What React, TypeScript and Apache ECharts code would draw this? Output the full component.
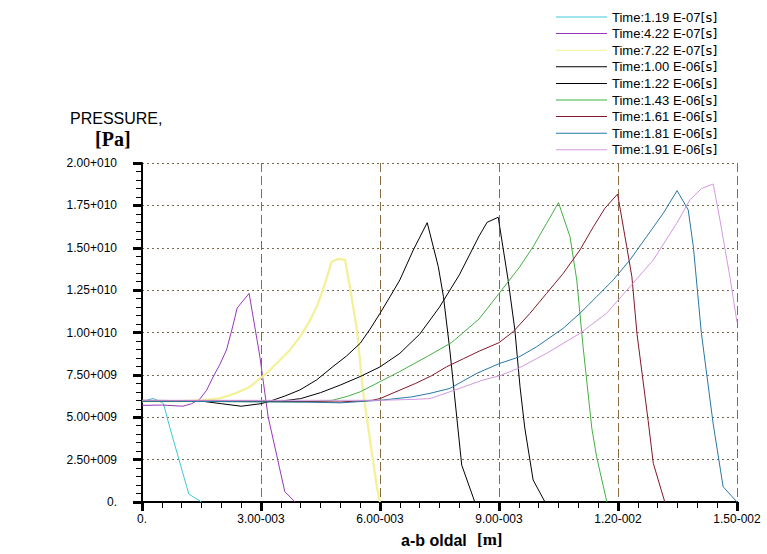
import React, { useEffect, useRef } from "react";
import * as echarts from "echarts";

// x in mm (axis shows metres), y in 1e9 Pa (axis shows Pa)
const seriesNames = [
  "Time:1.19 E-07",
  "Time:4.22 E-07",
  "Time:7.22 E-07",
  "Time:1.00 E-06",
  "Time:1.22 E-06",
  "Time:1.43 E-06",
  "Time:1.61 E-06",
  "Time:1.81 E-06",
  "Time:1.91 E-06",
];
const seriesColors = ["#40c8d8", "#9838b8", "#f3f096", "#000000", "#00000c", "#44b044", "#801828", "#2878a4", "#d498e0"];

const t119 = [[0, 5.9], [0.28, 6.12], [0.54, 5.82], [0.7, 4.4], [1.18, 0.47], [1.5, 0]];
const t422 = [[0, 5.7], [0.5, 5.72], [1.03, 5.65], [1.25, 5.8], [1.46, 6.08], [1.63, 6.6], [1.79, 7.37], [1.96, 8.1], [2.13, 8.97], [2.27, 10.2], [2.4, 11.45], [2.7, 12.31], [2.97, 8.6], [3.18, 5.03], [3.6, 0.61], [3.86, 0]];
const t722 = [[0, 5.95], [1.0, 5.95], [1.5, 6.0], [1.97, 6.12], [2.35, 6.4], [2.72, 6.8], [3.14, 7.6], [3.45, 8.3], [3.73, 8.97], [4.0, 9.8], [4.24, 10.74], [4.42, 11.6], [4.56, 12.51], [4.68, 13.4], [4.78, 14.18], [4.94, 14.34], [5.12, 14.28], [5.24, 12.7], [5.42, 10.15], [5.55, 7.0], [5.62, 5.72], [5.92, 0.9], [6.0, 0]];
const t100 = [[0, 5.95], [1.5, 5.95], [2.0, 5.8], [2.5, 5.65], [3.0, 5.8], [3.23, 5.95], [3.6, 6.25], [3.98, 6.61], [4.4, 7.2], [4.81, 7.98], [5.15, 8.6], [5.5, 9.36], [5.75, 10.2], [6.0, 11.13], [6.25, 12.1], [6.5, 13.1], [6.84, 14.87], [7.19, 16.48], [7.47, 13.88], [7.6, 12.11], [7.76, 8.97], [8.06, 2.18], [8.39, 0]];
const t122 = [[0, 5.95], [3.5, 5.95], [4.0, 6.1], [4.5, 6.45], [5.0, 6.9], [5.5, 7.4], [6.0, 7.97], [6.5, 8.77], [7.0, 9.9], [7.5, 11.5], [8.0, 13.4], [8.5, 15.7], [8.7, 16.5], [8.98, 16.8], [9.23, 13.1], [9.4, 10.15], [9.53, 6.8], [9.65, 4.37], [9.86, 1.3], [10.16, 0]];
const t143 = [[0, 5.95], [4.0, 5.9], [4.8, 6.0], [5.2, 6.25], [5.5, 6.5], [6.0, 7.1], [6.5, 7.7], [7.2, 8.6], [7.8, 9.4], [8.5, 10.8], [9.0, 12.3], [9.5, 13.8], [9.86, 15.06], [10.2, 16.44], [10.5, 17.66], [10.79, 15.65], [10.96, 13.1], [11.12, 9.16], [11.34, 4.35], [11.46, 2.67], [11.72, 0]];
const t161 = [[0, 6.0], [3.0, 5.95], [5.0, 5.9], [5.8, 6.0], [6.0, 6.1], [6.9, 7.0], [7.3, 7.45], [7.68, 7.98], [8.1, 8.45], [8.5, 8.9], [9.0, 9.4], [9.36, 10.05], [9.78, 11.13], [10.2, 12.31], [10.62, 13.49], [11.04, 14.87], [11.38, 16.24], [11.67, 17.33], [11.99, 18.17], [12.22, 15.06], [12.35, 13.29], [12.48, 9.9], [12.76, 4.8], [12.89, 2.28], [13.18, 0]];
const t181 = [[0, 5.95], [4.0, 5.9], [5.0, 5.85], [6.0, 6.0], [6.8, 6.2], [7.26, 6.41], [7.76, 6.7], [8.44, 7.59], [9.02, 8.18], [9.5, 8.55], [9.95, 9.16], [10.62, 10.25], [11.04, 11.13], [11.46, 12.11], [11.88, 13.1], [12.3, 14.28], [12.72, 15.65], [13.14, 17.03], [13.49, 18.37], [13.77, 17.23], [13.9, 15.06], [14.1, 10.0], [14.4, 4.6], [14.65, 0.9], [15.0, 0]];
const t191 = [[0, 6.0], [6.0, 6.0], [6.8, 6.05], [7.26, 6.1], [7.76, 6.5], [8.6, 7.2], [9.02, 7.45], [9.5, 7.9], [10.2, 8.77], [11.04, 9.95], [11.71, 11.13], [12.3, 12.7], [12.89, 14.28], [13.48, 16.44], [13.81, 17.82], [14.11, 18.5], [14.4, 18.76], [14.57, 16.64], [14.82, 13.29], [15.0, 10.6]];

const allData = [t119, t422, t722, t100, t122, t143, t161, t181, t191];

const X_SCALE = 1e-3;
const Y_SCALE = 1e9;

function sci(v: number): string {
  if (Math.abs(v) < 1e-20) return "0.";
  const s = v.toExponential(2);
  const [m, e] = s.split("e");
  const n = parseInt(e, 10);
  return m + (n < 0 ? "-" : "+") + String(Math.abs(n)).padStart(3, "0");
}

const LINE_ICON = "path://M0,7L51,7L51,8L0,8Z";

export default function App() {
  const ref = useRef<HTMLDivElement>(null);
  useEffect(() => {
    if (!ref.current) return;
    const chart = echarts.init(ref.current, null, { renderer: "svg" });
    const series = allData.map((d, i) => ({
      name: seriesNames[i],
      type: "line",
      data: d,
      symbol: "none",
      showSymbol: false,
      lineStyle: { color: seriesColors[i], width: i === 2 ? 2.2 : 1 },
      itemStyle: { color: seriesColors[i] },
    }));
    chart.setOption({
      animation: false,
      backgroundColor: "#ffffff",
      grid: { left: 142, right: 30, top: 163, bottom: 52 },
      legend: {
        orient: "vertical",
        left: 556,
        top: 10,
        padding: 0,
        itemWidth: 51,
        itemHeight: 14,
        itemGap: 2.6,
        icon: LINE_ICON,
        data: seriesNames.map((n, i) => ({ name: n, icon: LINE_ICON, itemStyle: { color: seriesColors[i] } })),
        formatter: (name: string) => name + "{b|[s]}",
        textStyle: {
          fontFamily: "Arial, 'Liberation Sans'",
          fontSize: 13,
          lineHeight: 14,
          color: "#000",
          rich: { b: { fontFamily: "'DejaVu Sans'", fontSize: 13, color: "#000" } },
        },
      },
      xAxis: {
        type: "value",
        min: 0,
        max: 15,
        interval: 3,
        axisLine: { show: true, onZero: false, lineStyle: { color: "#000", width: 2 } },
        axisTick: { show: true, length: 9, lineStyle: { color: "#000", width: 3 } },
        minorTick: { show: true, splitNumber: 6, length: 6, lineStyle: { color: "#000", width: 1 } },
        axisLabel: {
          margin: 11,
          fontFamily: "Arial, 'Liberation Sans'",
          fontSize: 12,
          color: "#000",
          formatter: (v: number) => sci(v * X_SCALE),
        },
        splitLine: { show: true, lineStyle: { color: "#8a6c44", type: [9, 4], width: 1 } },
      },
      yAxis: {
        type: "value",
        min: 0,
        max: 20,
        interval: 2.5,
        axisLine: { show: true, onZero: false, lineStyle: { color: "#000", width: 2 } },
        axisTick: { show: true, length: 9, lineStyle: { color: "#000", width: 3 } },
        minorTick: { show: true, splitNumber: 5, length: 6, lineStyle: { color: "#000", width: 1 } },
        axisLabel: {
          margin: 25,
          fontFamily: "Arial, 'Liberation Sans'",
          fontSize: 12,
          color: "#000",
          formatter: (v: number) => sci(v * Y_SCALE),
        },
        splitLine: { show: true, lineStyle: { color: "#7a6a4c", type: [2, 3], width: 1 } },
      },
      graphic: [
        { type: "text", left: 70, top: 110, style: { text: "PRESSURE,", font: "16px Arial, 'Liberation Sans'", fill: "#000" } },
        { type: "text", left: 95, top: 129, style: { text: "[Pa]", font: "bold 20px 'Liberation Serif'", fill: "#000" } },
        { type: "text", left: 401, top: 532, style: { text: "a-b oldal", font: "bold 16px Arial, 'Liberation Sans'", fill: "#000" } },
        { type: "text", left: 477, top: 531, style: { text: "[m]", font: "bold 17px 'Liberation Serif'", fill: "#000" } },
      ],
      series,
    });
    return () => chart.dispose();
  }, []);
  return (
    <div
      ref={ref}
      style={{ position: "fixed", left: 0, top: 0, width: 767, height: 554, background: "#fff" }}
    />
  );
}
